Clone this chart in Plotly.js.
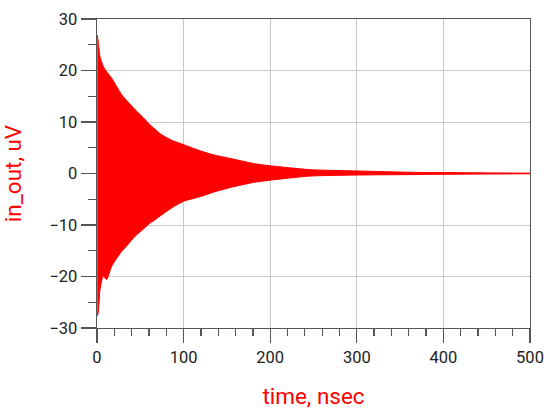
<!DOCTYPE html>
<html>
<head>
<meta charset="utf-8">
<script src="https://cdn.plot.ly/plotly-3.0.1.min.js"></script>
<style>html,body{margin:0;padding:0;background:#fff;}#chart{width:550px;height:416px;}</style>
</head>
<body>
<div id="chart"></div>
<script>
// Envelope of the in_out signal (time in nsec, values in uV)
const timeNs = [0.3, 1.5, 3.5, 7.3, 11, 17, 28.5, 32, 44, 55.5, 59, 67, 75, 87, 100, 121, 135, 152, 182, 200, 246, 300, 373, 400, 450, 500];
const upperUv = [26.9, 25.5, 22.7, 20.8, 19.8, 18.5, 15.3, 14.6, 12.4, 10.5, 9.8, 8.6, 7.5, 6.4, 5.6, 4.3, 3.6, 3.0, 1.9, 1.5, 0.75, 0.5, 0.2, 0.18, 0.12, 0.08];
const lowerUv = [-27.7, -27.0, -22.5, -19.9, -20.6, -18.0, -15.1, -14.5, -12.2, -10.5, -9.9, -9.0, -8.0, -6.6, -5.4, -4.4, -3.6, -2.8, -1.7, -1.3, -0.5, -0.3, -0.2, -0.15, -0.1, -0.05];
const xTickVals = [0, 100, 200, 300, 400, 500];
const yTickVals = [-30, -20, -10, 0, 10, 20, 30];

const red = '#ff0000';
const traces = [
  {x: timeNs, y: upperUv, type: 'scatter', mode: 'lines', line: {color: red, width: 1, shape: 'spline', smoothing: 0.6}, hoverinfo: 'skip', showlegend: false},
  {x: timeNs, y: lowerUv, type: 'scatter', mode: 'lines', line: {color: red, width: 1, shape: 'spline', smoothing: 0.6}, fill: 'tonexty', fillcolor: red, hoverinfo: 'skip', showlegend: false}
];

const axisCommon = {
  showline: true, linecolor: '#555', linewidth: 1.3, mirror: true,
  showgrid: true, gridcolor: '#c8c8c8', gridwidth: 1, zeroline: false,
  ticks: 'outside', tickcolor: '#555', tickwidth: 1.3,
  tickfont: {family: 'Roboto, sans-serif', size: 16.5, color: '#222'}
};

const layout = {
  width: 550, height: 416,
  margin: {l: 97, r: 20, t: 19, b: 88},
  paper_bgcolor: '#fff', plot_bgcolor: '#fff',
  xaxis: Object.assign({}, axisCommon, {
    range: [0, 500], tickvals: xTickVals, ticklen: 14,
    minor: {dtick: 20, tick0: 0, ticks: 'outside', ticklen: 7, tickcolor: '#555', tickwidth: 1.3, showgrid: false},
    title: {text: 'time, nsec', font: {family: 'Roboto, sans-serif', size: 22.5, color: red}, standoff: 22}
  }),
  yaxis: Object.assign({}, axisCommon, {
    range: [-30, 30], tickvals: yTickVals, ticklen: 15,
    minor: {dtick: 5, tick0: 0, ticks: 'outside', ticklen: 8, tickcolor: '#555', tickwidth: 1.3, showgrid: false},
    title: {text: 'in_out, uV', font: {family: 'Roboto, sans-serif', size: 22.5, color: red}, standoff: 22}
  })
};

Plotly.newPlot('chart', traces, layout, {staticPlot: true, displayModeBar: false});
</script>
</body>
</html>
